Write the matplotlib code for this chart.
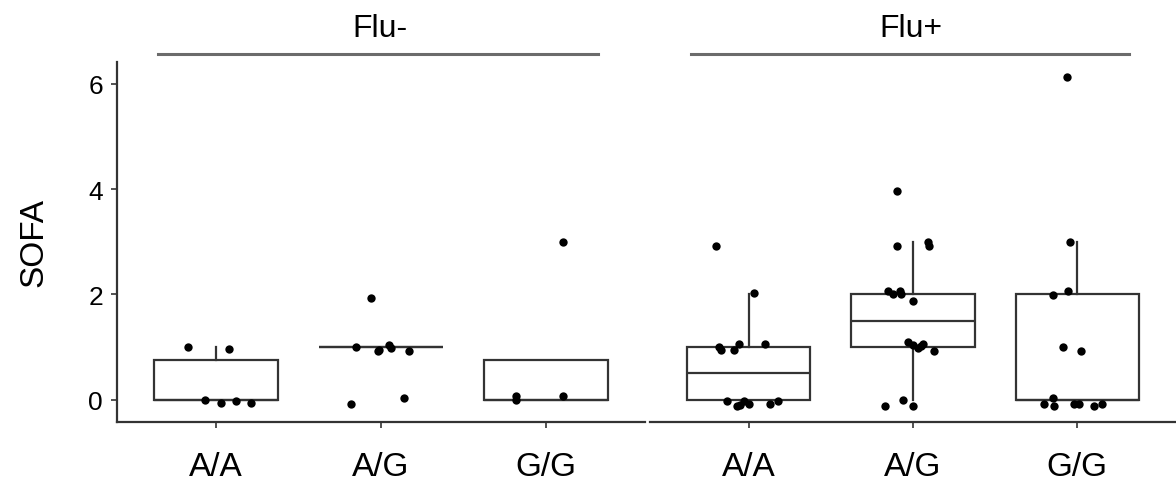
import numpy as np
import matplotlib
matplotlib.use("Agg")
import matplotlib.pyplot as plt

plt.rcParams['font.family'] = ['Liberation Sans', 'DejaVu Sans']

genotypes = ["A/A", "A/G", "G/G"]
panels = ["Flu-", "Flu+"]

# SOFA scores per group, with the jitter offsets
flu_neg_aa = [1, 1, 0, 0, 0, 0]
flu_neg_aa_dx = [-0.17, 0.08, -0.065, 0.03, 0.12, 0.21]
flu_neg_aa_dy = [0.0, -0.045, -0.01, -0.07, -0.02, -0.07]

flu_neg_ag = [2, 1, 1, 1, 1, 1, 1, 0, 0]
flu_neg_ag_dx = [-0.06, -0.15, -0.02, 0.05, 0.06, 0.17, -0.01, -0.18, 0.14]
flu_neg_ag_dy = [-0.06, 0.0, -0.08, 0.04, -0.01, -0.08, -0.06, -0.08, 0.03]

flu_neg_gg = [3, 0, 0, 0]
flu_neg_gg_dx = [0.1, -0.18, -0.18, 0.1]
flu_neg_gg_dy = [0.0, 0.08, -0.01, 0.07]

flu_pos_aa = [3, 2, 1, 1, 1, 1, 1, 0, 0, 0, 0, 0, 0, 0]
flu_pos_aa_dx = [-0.2, 0.03, -0.18, -0.17, -0.09, -0.06, 0.1,
                 -0.13, -0.07, -0.03, 0.0, 0.13, 0.18, -0.05]
flu_pos_aa_dy = [-0.09, 0.02, 0.0, -0.05, -0.05, 0.05, 0.05,
                 -0.03, -0.12, -0.03, -0.08, -0.08, -0.03, -0.1]

flu_pos_ag = [4, 3, 3, 3, 2, 2, 2, 2, 2, 1, 1, 1, 1, 1, 1, 0, 0, 0]
flu_pos_ag_dx = [-0.1, -0.1, 0.09, 0.1, -0.15, -0.12, -0.08, -0.07, 0.0,
                 -0.03, 0.0, 0.05, 0.03, 0.13, 0.06, -0.17, -0.06, 0.0]
flu_pos_ag_dy = [-0.03, -0.09, 0.0, -0.09, 0.06, 0.0, 0.06, 0.0, -0.12,
                 0.09, 0.04, 0.02, -0.02, -0.08, 0.05, -0.12, -0.01, -0.12]

flu_pos_gg = [6, 3, 2, 2, 1, 1, 0, 0, 0, 0, 0, 0, 0]
flu_pos_gg_dx = [-0.065, -0.045, -0.15, -0.06, -0.09, 0.02,
                 -0.2, -0.15, -0.14, -0.02, 0.01, 0.1, 0.15]
flu_pos_gg_dy = [0.12, 0.0, -0.02, 0.07, 0.0, -0.08,
                 -0.08, 0.03, -0.12, -0.08, -0.08, -0.12, -0.08]

groups = {
    "Flu-": [(flu_neg_aa, flu_neg_aa_dx, flu_neg_aa_dy),
             (flu_neg_ag, flu_neg_ag_dx, flu_neg_ag_dy),
             (flu_neg_gg, flu_neg_gg_dx, flu_neg_gg_dy)],
    "Flu+": [(flu_pos_aa, flu_pos_aa_dx, flu_pos_aa_dy),
             (flu_pos_ag, flu_pos_ag_dx, flu_pos_ag_dy),
             (flu_pos_gg, flu_pos_gg_dx, flu_pos_gg_dy)],
}

dark = "#333333"

fig = plt.figure(figsize=(11.76, 4.85), dpi=100)
ax_l = fig.add_axes([0.0995, 0.128, 0.449, 0.743])
ax_r = fig.add_axes([0.5527, 0.128, 0.4473, 0.743], sharey=ax_l)

for ax, panel in zip([ax_l, ax_r], panels):
    data = groups[panel]
    pos = np.arange(1, len(genotypes) + 1)
    ax.boxplot([d[0] for d in data], positions=pos, widths=0.75,
               showcaps=False, showfliers=False, patch_artist=True,
               boxprops=dict(facecolor="white", edgecolor=dark, linewidth=1.6),
               medianprops=dict(color=dark, linewidth=1.6),
               whiskerprops=dict(color=dark, linewidth=1.6), zorder=1)
    for p, (vals, dx, dy) in zip(pos, data):
        xs = p + np.array(dx)
        ys = np.array(vals) + np.array(dy)
        ax.scatter(xs, ys, s=36, color="black", zorder=3, linewidths=0)

    ax.set_xlim(0.4, 3.6)
    ax.set_xticks(pos)
    ax.set_xticklabels(genotypes, fontsize=24, color="black")
    ax.tick_params(axis="x", length=4, width=1.2, color=dark, pad=17)
    for s in ["top", "right", "left"]:
        ax.spines[s].set_visible(False)
    ax.spines["bottom"].set_color(dark)
    ax.spines["bottom"].set_linewidth(1.6)

    # facet strip: title above a grey rule
    ax.plot([0.078, 0.911], [1.022, 1.022], transform=ax.transAxes,
            color="#6b6b6b", linewidth=2.2, clip_on=False)
    ax.text(0.497, 1.072, panel, transform=ax.transAxes, ha="center",
            va="baseline", fontsize=23, color="black")

ax_l.set_ylim(-0.42, 6.42)
ax_l.set_yticks([0, 2, 4, 6])
ax_l.tick_params(axis="y", length=4, width=1.2, color=dark, labelsize=19, pad=6)
ax_l.spines["left"].set_visible(True)
ax_l.spines["left"].set_color(dark)
ax_l.spines["left"].set_linewidth(1.6)
ax_l.set_ylabel("SOFA", fontsize=24, labelpad=28)
ax_r.tick_params(axis="y", left=False, labelleft=False)

fig.savefig("out.png", dpi=100)
